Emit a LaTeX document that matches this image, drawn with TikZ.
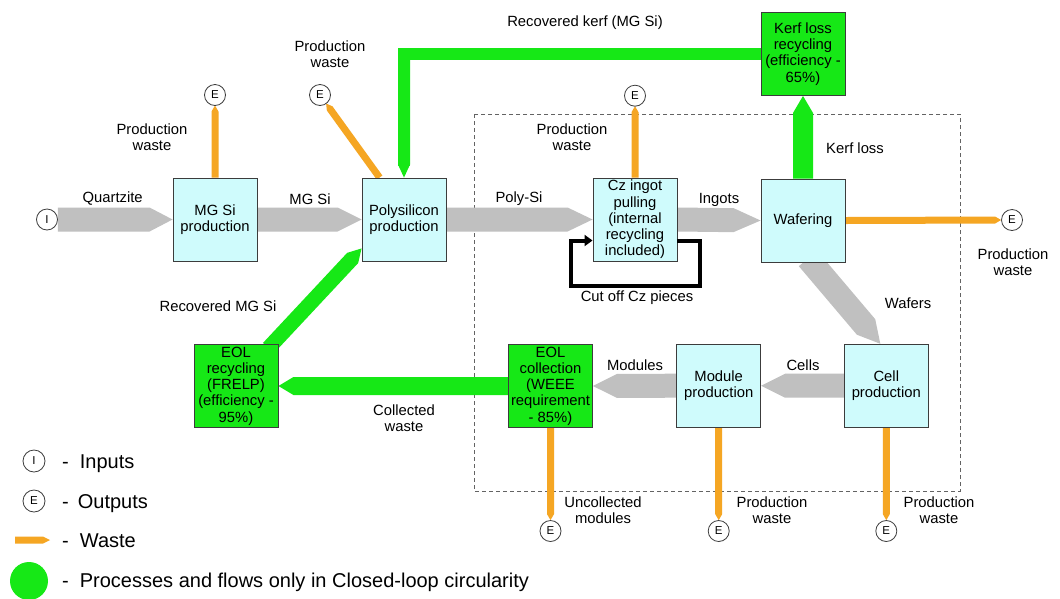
\documentclass[tikz,border=0pt]{standalone}
\usepackage{fontspec}
\setmainfont{Liberation Sans}
\usetikzlibrary{calc,backgrounds,arrows.meta}
\definecolor{boxcyan}{RGB}{207,251,252}
\definecolor{flowgreen}{RGB}{22,232,22}
\definecolor{wasteorange}{RGB}{245,166,35}
\definecolor{flowgray}{RGB}{192,192,192}
\definecolor{edgegray}{RGB}{60,60,60}
\newcommand\dgprocfont{\fontsize{14.8}{16.2}\selectfont}
\newcommand\dglblfont{\fontsize{14.8}{16}\selectfont}
% fat arrow: #1 style, #2 start, #3 end, #4 half width, #5 head length
\newcommand\fatarrow[5]{%
  \coordinate (fas) at (#2);
  \coordinate (fae) at (#3);
  \coordinate (fah) at ($(fae)!#5!(fas)$);
  \fill[#1] ($(fas)!#4!90:(fae)$) -- ($(fah)!#4!90:(fae)$) -- (fae) -- ($(fah)!#4!-90:(fae)$) -- ($(fas)!#4!-90:(fae)$) -- cycle;
}
\begin{document}
\begin{tikzpicture}[x=1pt,y=-1pt,
  proc/.style={draw=edgegray, line width=0.9pt, fill=boxcyan, minimum width=84pt, minimum height=83pt, inner sep=1pt, align=center, font=\dgprocfont},
  greenproc/.style={proc, fill=flowgreen},
  lbl/.style={align=center, inner sep=0pt, font=\dglblfont},
  endpt/.style={circle, draw=edgegray, line width=0.8pt, fill=white, minimum size=21pt, inner sep=0pt, font=\fontsize{11.5}{11.5}\selectfont},
  grayflow/.style={fill=flowgray},
  greenflow/.style={fill=flowgreen},
  wasteflow/.style={fill=wasteorange},
  legendtxt/.style={anchor=base west, inner sep=0pt, font=\fontsize{20}{22}\selectfont},
  cutloop/.style={draw=black, line width=4pt, line join=miter, -{Triangle[length=8pt,width=11pt]}},
  scopebox/.style={draw=edgegray!80, line width=0.8pt, dash pattern=on 4pt off 3pt},
]
\useasboundingbox (0,0) rectangle (1060,598);

% process boxes
\node[proc] (mgsi) at (215,219.5) {MG Si\\production};
\node[proc] (poly) at (404,219.5) {Polysilicon\\production};
\node[proc] (cz) at (635,219.5) {Cz ingot\\pulling\\(internal\\recycling\\included)};
\node[proc] (wafer) at (803,220.5) {Wafering};
\node[greenproc] (kerf) at (803,54) {Kerf loss\\recycling\\(efficiency -\\65\%)};
\node[greenproc] (eolrec) at (236,386) {EOL\\recycling\\(FRELP)\\(efficiency -\\95\%)};
\node[greenproc] (eolcol) at (550.5,386) {EOL\\collection\\(WEEE\\requirement\\- 85\%)};
\node[proc] (module) at (718.7,385.7) {Module\\production};
\node[proc] (cell) at (886.3,385.7) {Cell\\production};

% inputs / outputs
\node[endpt] (inp) at (47,219.5) {I};
\node[endpt] (e1) at (215,95) {E};
\node[endpt] (e2) at (320,95) {E};
\node[endpt] (e3) at (635,95.7) {E};
\node[endpt] (e4) at (1012,220) {E};
\node[endpt] (e5) at (550.5,531) {E};
\node[endpt] (e6) at (718.7,531) {E};
\node[endpt] (e7) at (886.3,531) {E};

% labels
\node[lbl] (lquartz) at (112.7,199) {Quartzite};
\node[lbl] (lmgsi) at (310,199) {MG Si};
\node[lbl] (lpw1) at (152,137) {Production\\waste};
\node[lbl] (lpw2) at (330,54) {Production\\waste};
\node[lbl] (lrk) at (585,23) {Recovered kerf (MG Si)};
\node[lbl] (lpolysi) at (519,199) {Poly-Si};
\node[lbl] (lpw3) at (572,137) {Production\\waste};
\node[lbl] (lingots) at (719,200) {Ingots};
\node[lbl] (lkerf) at (855,148) {Kerf loss};
\node[lbl] (lpw4) at (1013,262) {Production\\waste};
\node[lbl] (lcut) at (637,298) {Cut off Cz pieces};
\node[lbl] (lwafers) at (908,303) {Wafers};
\node[lbl] (lrmg) at (218,306) {Recovered MG Si};
\node[lbl] (lcoll) at (404,418) {Collected\\waste};
\node[lbl] (lmod) at (635,365) {Modules};
\node[lbl] (lcells) at (803,365) {Cells};
\node[lbl] (lunc) at (603,510) {Uncollected\\modules};
\node[lbl] (lpw5) at (772,510) {Production\\waste};
\node[lbl] (lpw6) at (939,510) {Production\\waste};

% cut-off loop
\draw[cutloop] ($(cz.east)+(0,21)$) -| ($(cz.east)+(23,66.5)$) -| ($(cz.west)+(-22,21)$) -- ($(cz.west)+(0,21)$);

% legend
\node[endpt, minimum size=22pt] (legi) at (34,461) {I};
\node[endpt, minimum size=22pt] (lege) at (34,501) {E};
\node[circle, fill=flowgreen, minimum size=38pt, inner sep=0pt] (legg) at (29,581) {};
\node[legendtxt] (legti) at (62,468) {-\hspace{11pt}Inputs};
\node[legendtxt] (legte) at (62,508) {-\hspace{9pt}Outputs};
\node[legendtxt] (legtw) at (62,547) {-\hspace{11pt}Waste};
\node[legendtxt] (legtg) at (62,587) {-\hspace{11pt}Processes and flows only in Closed-loop circularity};

\begin{scope}[on background layer]
  \fill[white] (0,0) rectangle (1060,598);
  \draw[scopebox] (474,114) rectangle (960,491);
  % main gray flows
  \fatarrow{grayflow}{inp.east}{mgsi.west}{12pt}{23pt}
  \fatarrow{grayflow}{mgsi.east}{poly.west}{12pt}{24pt}
  \fatarrow{grayflow}{poly.east}{cz.west}{12pt}{25pt}
  \fatarrow{grayflow}{cz.east}{wafer.west}{12pt}{27pt}
  \fatarrow{grayflow}{$(wafer.south)+(5,-4)$}{$(cell.north)+(-6,0)$}{12pt}{22pt}
  \fatarrow{grayflow}{cell.west}{module.east}{12pt}{24pt}
  \fatarrow{grayflow}{module.west}{eolcol.east}{12pt}{24pt}
  % green flows
  \fatarrow{greenflow}{eolcol.west}{eolrec.east}{9pt}{15pt}
  \fatarrow{greenflow}{$(eolrec.north east)+(-10,4)$}{$(poly.south west)+(0,-13)$}{7.5pt}{13pt}
  \fatarrow{greenflow}{wafer.north}{kerf.south}{10pt}{17pt}
  \coordinate (kc) at (poly.north |- kerf.west);
  \draw[flowgreen, line width=12pt, line join=miter] (kerf.west) -- (kc) -- ($(poly.north)+(0,-12)$);
  \fatarrow{greenflow}{kc}{poly.north}{6pt}{13pt}
  % waste flows
  \fatarrow{wasteflow}{mgsi.north}{$(e1)!10.5pt!(mgsi.north)$}{3.5pt}{6pt}
  \coordinate (pw) at ($(poly.north west)+(18,0)$);
  \fatarrow{wasteflow}{pw}{$(e2)!10.5pt!(pw)$}{3.5pt}{6pt}
  \fatarrow{wasteflow}{cz.north}{$(e3)!10.5pt!(cz.north)$}{3.5pt}{6pt}
  \fatarrow{wasteflow}{wafer.east}{e4.west}{3.5pt}{6pt}
  \fatarrow{wasteflow}{eolcol.south}{e5.north}{3.5pt}{6pt}
  \fatarrow{wasteflow}{module.south}{e6.north}{3.5pt}{6pt}
  \fatarrow{wasteflow}{cell.south}{e7.north}{3.5pt}{6pt}
  % legend waste arrow
  \coordinate (lws) at (15,540);
  \coordinate (lwe) at (50,540);
  \fatarrow{wasteflow}{lws}{lwe}{3.5pt}{7pt}
\end{scope}
\end{tikzpicture}
\end{document}
